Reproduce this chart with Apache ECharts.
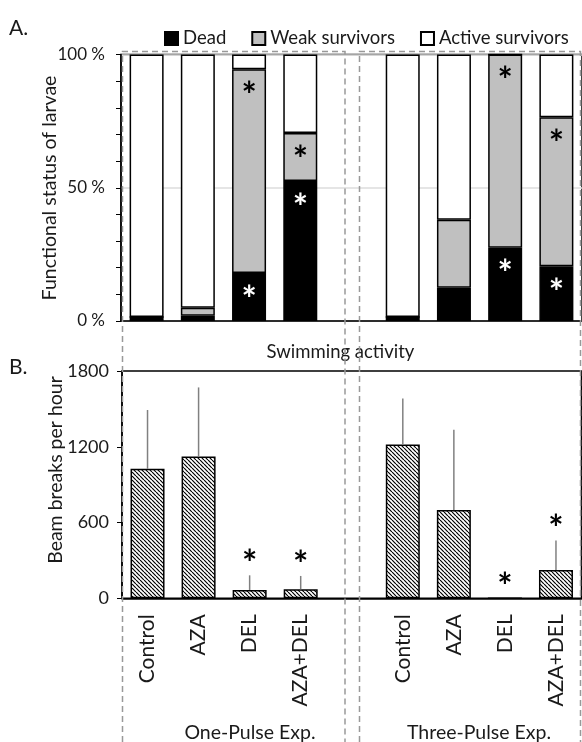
<!DOCTYPE html>
<html>
<head>
<meta charset="utf-8">
<script src="https://cdn.jsdelivr.net/npm/echarts@6/dist/echarts.min.js"></script>
<style>
html, body { margin: 0; padding: 0; background: #fff; }
#main { width: 582px; height: 742px; }
</style>
</head>
<body>
<div id="main"></div>
<script>
// categories (index 4 is the empty slot between the two experiments)
let groups = ['Control', 'AZA', 'DEL', 'AZA+DEL', '', 'Control', 'AZA', 'DEL', 'AZA+DEL'];

// A. functional status, % of larvae
let dead   = [1.5, 2, 18, 52.5, null, 1.5, 12.5, 27.5, 20.5];
let weak   = [0, 3, 76.5, 18, null, 0, 25.5, 72.5, 56];
let active = [98.5, 95, 5.5, 29.5, null, 98.5, 62, 0, 23.5];
let deadSig = [0, 0, 1, 1, 0, 0, 0, 1, 1];
let weakSig = [0, 0, 1, 1, 0, 0, 0, 1, 1];

// B. swimming activity, beam breaks per hour
let beamMean = [1025, 1123, 66, 71, null, 1218, 700, 0, 224];
let beamErr  = [466, 547, 116, 106, null, 365, 635, 0, 233];
let beamSig  = [0, 0, 1, 1, 0, 0, 0, 1, 1];

let yTicksA = [0, 50, 100];
let yTicksB = [0, 600, 1200, 1800];

const FONT = 'Lato';
const TXT = '#1a1a1a';
const STAR = 36;

// hatch fill for the beam break bars
function hatch() {
    let s = 4;
    let c = document.createElement('canvas');
    c.width = s;
    c.height = s;
    let ctx = c.getContext('2d');
    ctx.fillStyle = '#fff';
    ctx.fillRect(0, 0, s, s);
    ctx.strokeStyle = '#000';
    ctx.lineWidth = 1.2;
    ctx.beginPath();
    [-s, 0, s].forEach(o => {
        ctx.moveTo(o, 0);
        ctx.lineTo(o + s, s);
    });
    ctx.stroke();
    return c;
}

function starData(values, sig) {
    return values.map((v, i) => {
        if (sig[i] && v != null) {
            return {value: v, label: {show: true}};
        }
        return v;
    });
}

function statusSeries(name, values, color, sig, starColor) {
    return {
        name: name,
        type: 'bar',
        stack: 'status',
        xAxisIndex: 0,
        yAxisIndex: 0,
        barWidth: 34,
        data: sig ? starData(values, sig) : values,
        itemStyle: {color: color, borderColor: '#000', borderWidth: 1.5},
        label: {
            show: false,
            formatter: '*',
            position: 'insideTop',
            distance: 9,
            color: starColor || '#000',
            fontSize: STAR,
            fontWeight: 'bold',
            lineHeight: STAR,
            fontFamily: FONT
        },
        emphasis: {disabled: true}
    };
}

let errData = [];
beamMean.forEach((v, i) => {
    if (v != null) {
        errData.push([i, v, beamErr[i], beamSig[i]]);
    }
});

let chart = echarts.init(document.getElementById('main'));

let option = {
    animation: false,
    textStyle: {fontFamily: FONT},
    legend: {
        data: ['Dead', 'Weak survivors', 'Active survivors'],
        left: 164,
        top: 29,
        width: 418,
        padding: 0,
        icon: 'rect',
        itemWidth: 13,
        itemHeight: 13,
        itemGap: 25,
        textStyle: {fontSize: 18.5, fontFamily: FONT, color: TXT}
    },
    grid: [
        {left: 121, top: 54.5, width: 462.4, height: 266.5,
            show: true, borderColor: '#000', borderWidth: 1.5, backgroundColor: 'transparent'},
        {left: 122, top: 371, width: 459.5, height: 227.3,
            show: true, borderColor: '#000', borderWidth: 1.5, backgroundColor: 'transparent'}
    ],
    xAxis: [
        {
            type: 'category', gridIndex: 0, data: groups,
            axisLine: {lineStyle: {color: '#000', width: 1.5}},
            axisTick: {show: false},
            axisLabel: {show: false}
        },
        {
            type: 'category', gridIndex: 1, data: groups,
            axisLine: {lineStyle: {color: '#000', width: 1.5}},
            axisTick: {show: false},
            axisLabel: {
                rotate: 90, margin: 16, fontSize: 21, color: TXT, fontFamily: FONT,
                interval: 0
            }
        }
    ],
    yAxis: [
        {
            type: 'value', gridIndex: 0, min: 0, max: 100, interval: 50,
            axisLine: {show: true, lineStyle: {color: '#000', width: 1.5}},
            axisTick: {show: true, length: 5, lineStyle: {color: '#000'}},
            minorTick: {show: true, splitNumber: 5, length: 5, lineStyle: {color: '#000'}},
            splitLine: {show: true, lineStyle: {color: '#dcdcdc', width: 1.5}},
            axisLabel: {
                margin: 16, fontSize: 17, color: TXT, fontFamily: FONT,
                formatter: v => yTicksA.indexOf(v) >= 0 ? v + ' %' : ''
            }
        },
        {
            type: 'value', gridIndex: 1, min: 0, max: 1800, interval: 600,
            axisLine: {show: true, lineStyle: {color: '#000', width: 1.5}},
            axisTick: {show: true, length: 5, lineStyle: {color: '#000'}},
            splitLine: {show: false},
            axisLabel: {
                margin: 13, fontSize: 18, color: TXT, fontFamily: FONT,
                formatter: v => yTicksB.indexOf(v) >= 0 ? String(v) : ''
            }
        }
    ],
    series: [
        statusSeries('Dead', dead, '#000', deadSig, '#fff'),
        statusSeries('Weak survivors', weak, '#c0c0c0', weakSig, '#000'),
        statusSeries('Active survivors', active, '#fff', null),
        {
            name: 'Beam breaks',
            type: 'bar',
            xAxisIndex: 1,
            yAxisIndex: 1,
            barWidth: 34,
            data: beamMean,
            itemStyle: {color: {image: hatch(), repeat: 'repeat'}, borderColor: '#000', borderWidth: 1.5},
            emphasis: {disabled: true}
        },
        {
            name: 'SD',
            type: 'custom',
            xAxisIndex: 1,
            yAxisIndex: 1,
            z: 5,
            data: errData,
            renderItem: (params, api) => {
                let p0 = api.coord([api.value(0), api.value(1)]);
                let p1 = api.coord([api.value(0), api.value(1) + api.value(2)]);
                let children = [{
                    type: 'line',
                    shape: {x1: p0[0], y1: p0[1], x2: p1[0], y2: p1[1]},
                    style: {stroke: '#808080', lineWidth: 1.5}
                }];
                if (api.value(3)) {
                    children.push({
                        type: 'text',
                        x: p1[0],
                        y: p1[1] - 11,
                        style: {text: '*', fill: '#000', fontSize: STAR, fontWeight: 'bold',
                            fontFamily: FONT, align: 'center', verticalAlign: 'middle'}
                    });
                }
                return {type: 'group', children: children};
            }
        }
    ],
    graphic: [
        {type: 'text', left: 9, top: 18, style: {text: 'A.', fontSize: 21, fontFamily: FONT, fill: TXT}},
        {type: 'text', left: 9, top: 357, style: {text: 'B.', fontSize: 21, fontFamily: FONT, fill: TXT}},
        {type: 'text', x: 50, y: 188, rotation: Math.PI / 2,
            style: {text: 'Functional status of larvae', fontSize: 19.5, fontFamily: FONT, fill: TXT,
                align: 'center', verticalAlign: 'middle'}},
        {type: 'text', x: 56, y: 470, rotation: Math.PI / 2,
            style: {text: 'Beam breaks per hour', fontSize: 19.5, fontFamily: FONT, fill: TXT,
                align: 'center', verticalAlign: 'middle'}},
        {type: 'text', x: 340.5, y: 352,
            style: {text: 'Swimming activity', fontSize: 18.5, fontFamily: FONT, fill: TXT,
                align: 'center', verticalAlign: 'middle'}},
        {type: 'text', x: 250, y: 733,
            style: {text: 'One-Pulse Exp.', fontSize: 19.5, fontFamily: FONT, fill: TXT,
                align: 'center', verticalAlign: 'middle'}},
        {type: 'text', x: 479, y: 733,
            style: {text: 'Three-Pulse Exp.', fontSize: 19.5, fontFamily: FONT, fill: TXT,
                align: 'center', verticalAlign: 'middle'}},
        // dashed group frames
        {type: 'polyline', z: 100, silent: true,
            shape: {points: [[122.5, 742], [122.5, 51.5], [345, 51.5], [345, 742]]},
            style: {stroke: '#999', lineWidth: 1.5, lineDash: [6, 4], fill: null}},
        {type: 'polyline', z: 100, silent: true,
            shape: {points: [[359.5, 742], [359.5, 51.5], [580.5, 51.5], [580.5, 742]]},
            style: {stroke: '#999', lineWidth: 1.5, lineDash: [6, 4], fill: null}}
    ]
};

chart.setOption(option);
</script>
</body>
</html>
